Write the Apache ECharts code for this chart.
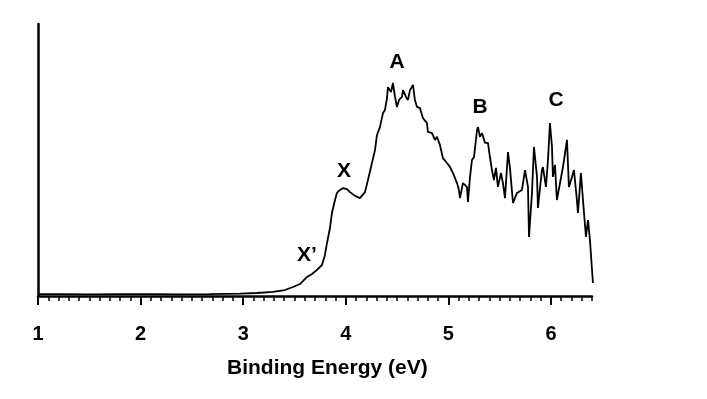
<!DOCTYPE html>
<html><head><meta charset="utf-8">
<script src="https://cdn.jsdelivr.net/npm/echarts@6/dist/echarts.min.js"></script>
<style>html,body{margin:0;padding:0;background:#fff}#c{width:707px;height:399px}</style>
</head><body><div id="c"></div>
<script>
// Binding energy (eV)
var energy = [1.000,1.214,1.507,1.799,2.092,2.384,2.676,2.969,3.134,3.290,
  3.407,3.485,3.554,3.622,3.671,3.719,3.768,3.797,3.817,3.846,
  3.865,3.895,3.914,3.943,3.973,4.012,4.041,4.090,4.138,4.187,
  4.216,4.255,4.285,4.304,4.333,4.363,4.382,4.402,4.411,4.441,
  4.460,4.480,4.499,4.519,4.548,4.558,4.587,4.606,4.626,4.655,
  4.674,4.694,4.723,4.752,4.791,4.801,4.840,4.869,4.889,4.918,
  4.947,4.986,5.016,5.045,5.084,5.103,5.113,5.142,5.181,5.191,
  5.211,5.230,5.250,5.279,5.289,5.308,5.328,5.357,5.386,5.405,
  5.425,5.444,5.464,5.483,5.513,5.532,5.552,5.581,5.600,5.630,
  5.669,5.717,5.747,5.776,5.786,5.815,5.834,5.864,5.873,5.912,
  5.922,5.951,5.971,5.990,6.010,6.019,6.039,6.058,6.088,6.117,
  6.156,6.175,6.205,6.224,6.253,6.263,6.292,6.312,6.341,6.361,
  6.380,6.409];
// Intensity (arb. units)
var intensity = [0.7,0.7,0.6,0.7,0.7,0.6,0.7,0.9,1.1,1.5,
  2.2,3.3,4.4,7.0,8.1,9.6,11.4,15.1,19.5,25.0,
  30.5,35.3,37.9,39.0,39.7,39.3,38.2,36.8,36.0,38.2,
  42.6,48.9,53.7,59.2,62.1,67.3,68.4,72.8,76.8,75.0,
  78.3,73.2,69.5,72.1,73.2,75.7,73.2,72.1,75.7,77.6,
  72.1,69.5,69.1,65.4,63.6,60.3,59.9,57.4,58.5,55.5,
  50.7,48.9,47.4,45.2,41.5,39.0,36.0,41.5,40.1,34.6,
  43.8,50.0,51.1,61.0,62.1,58.5,59.9,56.3,56.3,51.1,
  46.3,42.6,47.1,40.1,45.2,41.5,36.0,52.9,47.1,34.2,
  37.9,39.0,46.3,40.1,21.7,37.9,54.8,43.8,32.4,46.3,
  47.4,40.1,50.0,63.6,54.8,43.8,48.2,35.3,41.5,47.4,
  57.4,40.1,43.8,46.3,35.3,30.5,45.2,35.3,21.7,27.9,
  20.6,4.8];
// Peak annotations
var peakNames = ['X\u2019','X','A','B','C'];
var peakX = [3.622,3.982,4.499,5.308,6.049];
var peakY = [15.1,46.0,86.0,69.5,72.1];
var majorTicks = [1,2,3,4,5,6];
var axisTitle = 'Binding Energy (eV)';

var chart = echarts.init(document.getElementById('c'), null, {renderer:'canvas'});
var data = energy.map(function(e,i){return [e,intensity[i]];});
var peaks = peakNames.map(function(n,i){return {name:n,value:[peakX[i],peakY[i]]};});
var font = '"Liberation Sans", Arial, sans-serif';
chart.setOption({
  animation:false,
  backgroundColor:'#fff',
  grid:[
    {left:38,right:115,top:24,bottom:103},
    {left:38,right:156,top:24,bottom:103}
  ],
  xAxis:[
    {type:'value',gridIndex:0,min:1,max:6.4,interval:0.1,
     axisLine:{show:true,lineStyle:{color:'#000',width:2.5}},
     axisTick:{show:true,inside:false,length:5,lineStyle:{color:'#000',width:1.5}},
     axisLabel:{show:false},splitLine:{show:false}},
    {type:'value',gridIndex:1,min:majorTicks[0],max:majorTicks[majorTicks.length-1],interval:1,
     axisLine:{show:false},
     axisTick:{show:true,length:9,lineStyle:{color:'#000',width:2}},
     axisLabel:{show:true,color:'#000',fontSize:20,fontWeight:'bold',fontFamily:font,margin:28},
     splitLine:{show:false}}
  ],
  yAxis:[
    {type:'value',gridIndex:0,min:0,max:100,
     axisLine:{show:true,lineStyle:{color:'#000',width:2.5}},
     axisTick:{show:false},axisLabel:{show:false},splitLine:{show:false}},
    {type:'value',gridIndex:1,min:0,max:100,show:false}
  ],
  graphic:[{type:'text',left:227,top:358,style:{text:axisTitle,fill:'#000',font:'bold 21px '+font}}],
  series:[
    {type:'line',xAxisIndex:0,yAxisIndex:0,data:data,symbol:'none',
     lineStyle:{color:'#000',width:1.8},z:3},
    {type:'scatter',xAxisIndex:0,yAxisIndex:0,data:peaks,symbolSize:0,silent:true,
     itemStyle:{opacity:1,color:'#000'},
     label:{show:true,position:'inside',formatter:'{b}',color:'#000',opacity:1,fontSize:21,fontWeight:'bold',fontFamily:font}}
  ]
});
</script></body></html>
